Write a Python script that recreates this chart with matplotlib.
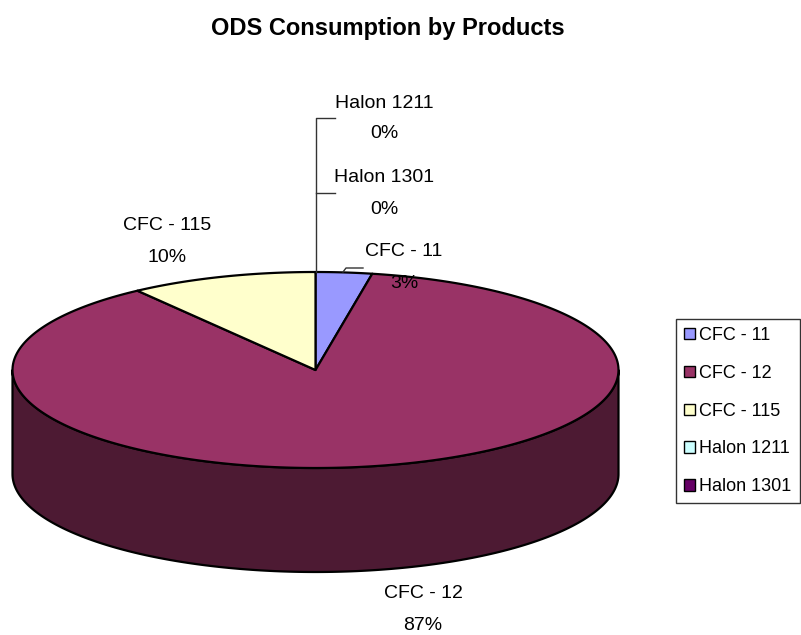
import numpy as np
import matplotlib
matplotlib.use("Agg")
import matplotlib.pyplot as plt
from matplotlib.patches import Polygon, Patch

# ---- data ----
categories = ["CFC - 11", "CFC - 12", "CFC - 115", "Halon 1211", "Halon 1301"]
values = [3, 87, 10, 0, 0]
top_colors = ["#9999FF", "#993366", "#FFFFCC", "#CCFFFF", "#660066"]
side_colors = ["#4D4D80", "#4D1A33", "#808066", "#668080", "#330033"]
title = "ODS Consumption by Products"

plt.rcParams['font.family'] = ['Liberation Sans', 'DejaVu Sans']

fig = plt.figure(figsize=(8.01, 6.35), dpi=100)
ax = fig.add_axes([0, 0, 1, 1])
ax.set_xlim(0, 801)
ax.set_ylim(635, 0)
ax.axis('off')

# pie geometry (pixels)
cx, cy, a, b, depth = 315.5, 370.0, 303.0, 98.0, 104.0
EC = "black"
LW = 1.6

def pt(t, dy=0.0):
    return cx + a * np.sin(t), cy - b * np.cos(t) + dy

total = float(sum(values))
fracs = [v / total for v in values]
starts = np.concatenate([[0], np.cumsum(fracs)[:-1]]) * 2 * np.pi
ends = np.cumsum(fracs) * 2 * np.pi

# sides (front half: t in [pi/2, 3pi/2])
for s, e, sc in zip(starts, ends, side_colors):
    lo, hi = max(s, np.pi / 2), min(e, 3 * np.pi / 2)
    if hi <= lo:
        continue
    t = np.linspace(lo, hi, 200)
    xs, ys = pt(t)
    xb, yb = pt(t[::-1], depth)
    poly = np.column_stack([np.concatenate([xs, xb]), np.concatenate([ys, yb])])
    ax.add_patch(Polygon(poly, closed=True, fc=sc, ec=EC, lw=LW, joinstyle='round', zorder=1))

# tops
for s, e, tc in zip(starts, ends, top_colors):
    if e - s <= 0:
        continue
    t = np.linspace(s, e, 300)
    xs, ys = pt(t)
    poly = np.column_stack([np.concatenate([[cx], xs]), np.concatenate([[cy], ys])])
    ax.add_patch(Polygon(poly, closed=True, fc=tc, ec=EC, lw=LW, joinstyle='round', zorder=2))

# title
ax.text(388, 28, title, ha='center', va='center', fontsize=17, fontweight='bold')

# data labels (layout positions)
label_pos = {
    "CFC - 11": (404, 252, 283),
    "CFC - 12": (423, 594, 626),
    "CFC - 115": (167, 225, 257),
    "Halon 1211": (384, 103, 133),
    "Halon 1301": (384, 178, 209),
}
fs = 14
for cat, f in zip(categories, fracs):
    x, y1, y2 = label_pos[cat]
    ax.text(x, y1, cat, ha='center', va='center', fontsize=fs, zorder=5)
    ax.text(x, y2, f"{round(f * 100):.0f}%", ha='center', va='center', fontsize=fs, zorder=5)

# leader lines
lc = "#333333"
ax.plot([cx + 0.5, cx + 0.5, 335], [cy - b, 118, 118], color=lc, lw=1.0, zorder=3)
ax.plot([cx + 0.5, 335], [193, 193], color=lc, lw=1.0, zorder=3)
ax.plot([343, 346, 363], [272, 268, 268], color=lc, lw=1.0, zorder=3)

# legend
handles = [Patch(fc=c, ec='black', lw=1.0) for c in top_colors]
leg = ax.legend(handles, categories, loc='upper left', bbox_to_anchor=(676 / 801, 1 - 319 / 635),
                fontsize=13, frameon=True, fancybox=False, edgecolor='black',
                handlelength=0.6, handleheight=0.6, handletextpad=0.25,
                labelspacing=1.15, borderpad=0.45, borderaxespad=0.0)
leg.get_frame().set_linewidth(1.0)

fig.savefig("out.png", dpi=100)
